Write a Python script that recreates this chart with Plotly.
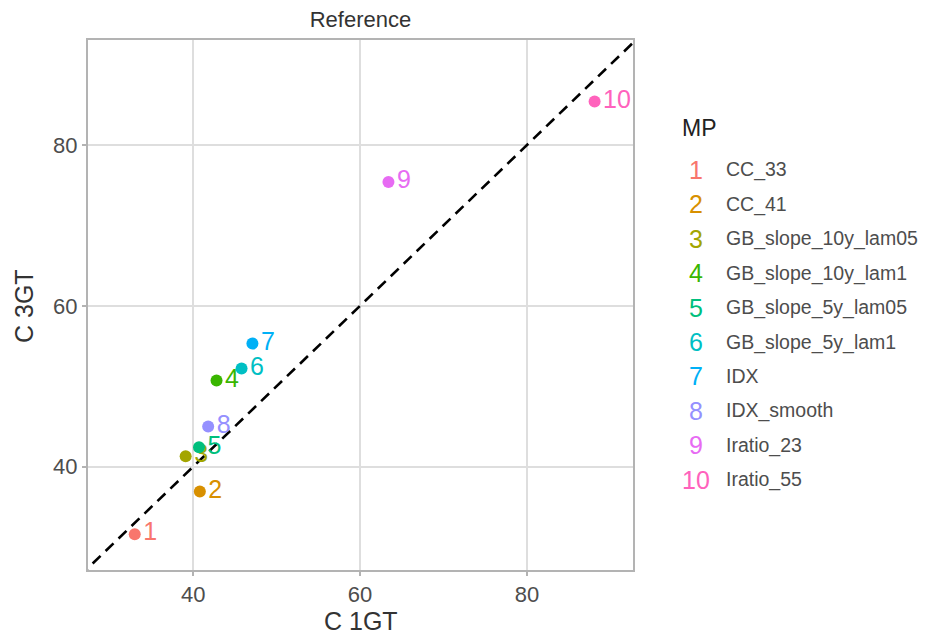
import plotly.graph_objects as go

mp_names = ["CC_33", "CC_41", "GB_slope_10y_lam05", "GB_slope_10y_lam1",
            "GB_slope_5y_lam05", "GB_slope_5y_lam1", "IDX", "IDX_smooth",
            "Iratio_23", "Iratio_55"]
mp_ids = ["1", "2", "3", "4", "5", "6", "7", "8", "9", "10"]
c_1gt = [33.0, 40.8, 39.1, 42.8, 40.7, 45.8, 47.1, 41.8, 63.4, 88.1]
c_3gt = [31.6, 36.9, 41.3, 50.7, 42.4, 52.2, 55.3, 45.0, 75.4, 85.4]
colors = ["#F8766D", "#D89000", "#A3A500", "#39B600", "#00BF7D",
          "#00BFC4", "#00B0F6", "#9590FF", "#E76BF3", "#FF62BC"]
x_ticks = [40, 60, 80]
y_ticks = [40, 60, 80]
x_range = [27.4, 92.7]
y_range = [27.15, 93.05]

FONT = "Liberation Sans, Arial, sans-serif"
OFF = 8  # page body margin offset of the figure in the browser
PAGE_W, PAGE_H = 931, 636
W, H = PAGE_W - OFF, PAGE_H - OFF
# plot area in page pixels: x 88..633, y 40..570
PX0, PX1, PY0, PY1 = 88, 633, 40, 570
L = PX0 - OFF
T = PY0 - OFF
R = W - (PX1 - OFF)
B = H - (PY1 - OFF)
pw, ph = PX1 - PX0, PY1 - PY0

fig = go.Figure()

# identity reference line
fig.add_trace(go.Scatter(x=[0, 100], y=[0, 100], mode="lines",
                         line=dict(color="black", width=2.6, dash="11px,7px"),
                         hoverinfo="skip", showlegend=False))

for i in range(len(mp_names)):
    fig.add_trace(go.Scatter(
        x=[c_1gt[i]], y=[c_3gt[i]], mode="markers+text",
        marker=dict(color=colors[i], size=12),
        text=[mp_ids[i]], textposition="middle right",
        textfont=dict(color=colors[i], size=25, family=FONT),
        name=mp_names[i], showlegend=False, cliponaxis=False))


def px2paper_x(px):
    return (px - PX0) / pw


def px2paper_y(py):
    return (PY1 - py) / ph


annotations = [
    dict(text="MP", x=px2paper_x(680), y=px2paper_y(128),
         xref="paper", yref="paper", xanchor="left", yanchor="middle",
         showarrow=False, font=dict(size=23, color="#222222", family=FONT)),
    dict(text="C 1GT", x=0.5, y=px2paper_y(621),
         xref="paper", yref="paper", xanchor="center", yanchor="middle",
         showarrow=False, font=dict(size=25, color="#333333", family=FONT)),
    dict(text="C 3GT", x=px2paper_x(24), y=px2paper_y(306), textangle=-90,
         xref="paper", yref="paper", xanchor="center", yanchor="middle",
         showarrow=False, font=dict(size=25, color="#333333", family=FONT)),
]
for i in range(len(mp_names)):
    yp = px2paper_y(170 + 34.4 * i)
    annotations.append(dict(text=mp_ids[i], x=px2paper_x(696), y=yp,
                            xref="paper", yref="paper", xanchor="center", yanchor="middle",
                            showarrow=False, font=dict(size=25, color=colors[i], family=FONT)))
    annotations.append(dict(text=mp_names[i], x=px2paper_x(724), y=yp,
                            xref="paper", yref="paper", xanchor="left", yanchor="middle",
                            showarrow=False, font=dict(size=19.5, color="#4D4D4D", family=FONT)))

axis_common = dict(showgrid=True, gridcolor="#DEDEDE", gridwidth=2,
                   zeroline=False, showline=True, linecolor="#B3B3B3", linewidth=2,
                   mirror=True, ticks="outside", ticklen=4, tickwidth=1.5,
                   tickcolor="#B3B3B3", automargin=False,
                   tickfont=dict(size=22, color="#4D4D4D", family=FONT))

fig.update_layout(
    width=W, height=H,
    margin=dict(l=L, r=R, t=T, b=B, autoexpand=False),
    paper_bgcolor="white", plot_bgcolor="white",
    title=dict(text="Reference", x=(L + pw / 2) / W, xanchor="center",
               y=1 - (19 - OFF) / H, yanchor="middle",
               font=dict(size=22, color="#333333", family=FONT)),
    xaxis=dict(range=x_range, tickvals=x_ticks, **axis_common),
    yaxis=dict(range=y_range, tickvals=y_ticks, **axis_common),
    annotations=annotations,
    showlegend=False,
)

fig.write_html("out.html")
